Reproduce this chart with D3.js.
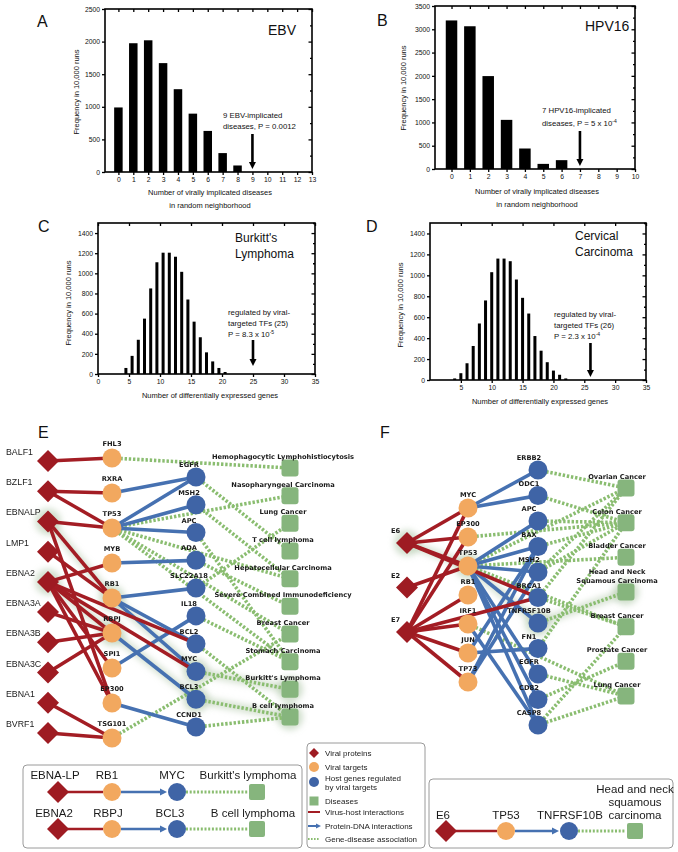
<!DOCTYPE html>
<html><head><meta charset="utf-8">
<script src="https://cdn.jsdelivr.net/npm/d3@7"></script>
<style>body{margin:0;background:#fff}svg{display:block}</style>
</head><body>
<svg id="fig" width="678" height="852"></svg>
<script>
// ---------------- DATA ----------------
const aCategories = [0,1,2,3,4,5,6,7,8,9,10,11,12,13];
const aValues     = [990,1975,2020,1670,1270,895,630,290,100,0,0,0,0,0];
const aYTicks     = [0,500,1000,1500,2000,2500];

const bCategories = [0,1,2,3,4,5,6,7,8,9,10];
const bValues     = [3190,3065,1995,1055,440,110,190,0,0,0,0];
const bYTicks     = [0,500,1000,1500,2000,2500,3000,3500];

const cBins   = [4,5,6,7,8,9,10,11,12,13,14,15,16,17,18,19,20];
const cValues = [60,180,340,550,850,1110,1205,1205,1165,1015,740,520,365,215,125,60,20];
const dBins   = [4,5,6,7,8,9,10,11,12,13,14,15,16,17,18,19,20,21,22];
const dValues = [15,65,160,325,540,760,1030,1160,1160,1135,960,785,635,420,280,170,90,50,15];
const cdYTicks = [0,200,400,600,800,1000,1200,1400];
const cXTicks  = [0,5,10,15,20,25,30,35];
const dXTicks  = [5,10,15,20,25,30,35];

const eViral    = ["BALF1","BZLF1","EBNALP","LMP1","EBNA2","EBNA3A","EBNA3B","EBNA3C","EBNA1","BVRF1"];
const eTargets  = ["FHL3","RXRA","TP53","MYB","RB1","RBPJ","SPI1","EP300","TSG101"];
const eHosts    = ["EGFR","MSH2","APC","ADA","SLC22A18","IL18","BCL2","MYC","BCL3","CCND1"];
const eDiseases = ["Hemophagocytic Lymphohistiocytosis","Nasopharyngeal Carcinoma","Lung Cancer","T cell lymphoma","Hepatocellular Carcinoma","Severe Combined Immunodeficiency","Breast Cancer","Stomach Carcinoma","Burkitt's Lymphoma","B cell lymphoma"];
const eRed = [["BALF1","FHL3"],["BZLF1","RXRA"],["BZLF1","TP53"],["EBNALP","TP53"],["EBNALP","RB1"],["EBNALP","EP300"],["LMP1","RB1"],["EBNA2","MYB"],["EBNA2","RBPJ"],["EBNA2","SPI1"],["EBNA2","EP300"],["EBNA2","BCL2"],["EBNA2","MYC"],["EBNA3A","RBPJ"],["EBNA3B","RBPJ"],["EBNA3C","RBPJ"],["EBNA1","TSG101"],["BVRF1","TSG101"]];
const eBlue = [["RXRA","EGFR"],["TP53","EGFR"],["TP53","MSH2"],["TP53","APC"],["MYB","ADA"],["RB1","SLC22A18"],["RB1","BCL2"],["RB1","MYC"],["RBPJ","BCL3"],["SPI1","IL18"],["EP300","CCND1"]];
const eGreen = [["FHL3","Hemophagocytic Lymphohistiocytosis"],["TP53","Nasopharyngeal Carcinoma"],["TP53","Hepatocellular Carcinoma"],["TP53","Breast Cancer"],["TP53","Stomach Carcinoma"],["EGFR","T cell lymphoma"],["MSH2","Hepatocellular Carcinoma"],["APC","Stomach Carcinoma"],["ADA","Severe Combined Immunodeficiency"],["SLC22A18","Lung Cancer"],["IL18","Stomach Carcinoma"],["BCL2","B cell lymphoma"],["MYC","Burkitt's Lymphoma"],["BCL3","B cell lymphoma"],["CCND1","B cell lymphoma"],["TSG101","Breast Cancer"]];
const eGlowEdges = [["EBNALP","RB1"],["EBNA2","RBPJ"],["RB1","MYC"],["RBPJ","BCL3"],["MYC","Burkitt's Lymphoma"],["BCL3","B cell lymphoma"]];
const eGlowNodes = ["EBNALP","EBNA2","RB1","RBPJ","MYC","BCL3","Burkitt's Lymphoma","B cell lymphoma"];

const fViral    = ["E6","E2","E7"];
const fTargets  = ["MYC","EP300","TP53","RB1","IRF1","JUN","TP73"];
const fHosts    = ["ERBB2","ODC1","APC","BAX","MSH2","BRCA1","TNFRSF10B","FN1","EGFR","CD82","CASP8"];
const fDiseases = ["Ovarian Cancer","Colon Cancer","Bladder Cancer","Head and Neck|Squamous Carcinoma","Breast Cancer","Prostate Cancer","Lung Cancer"];
const fRed = [["E6","MYC"],["E6","EP300"],["E6","TP53"],["E6","BRCA1"],["E2","TP53"],["E7","MYC"],["E7","EP300"],["E7","RB1"],["E7","IRF1"],["E7","JUN"],["E7","TP73"],["E7","BRCA1"]];
const fBlue = [["MYC","ERBB2"],["MYC","ODC1"],["TP53","APC"],["TP53","BAX"],["TP53","MSH2"],["TP53","TNFRSF10B"],["TP53","EGFR"],["TP53","CD82"],["TP53","CASP8"],["JUN","BAX"],["JUN","FN1"],["TP73","MSH2"],["TP73","BAX"],["IRF1","CASP8"]];
const fGreen = [["ERBB2","Ovarian Cancer"],["ODC1","Colon Cancer"],["APC","Colon Cancer"],["BAX","Colon Cancer"],["EP300","Colon Cancer"],["MSH2","Colon Cancer"],["MSH2","Ovarian Cancer"],["BRCA1","Ovarian Cancer"],["BRCA1","Breast Cancer"],["TP53","Ovarian Cancer"],["TP53","Bladder Cancer"],["TP53","Breast Cancer"],["TNFRSF10B","Head and Neck|Squamous Carcinoma"],["FN1","Colon Cancer"],["EGFR","Lung Cancer"],["CD82","Prostate Cancer"],["CASP8","Breast Cancer"],["CASP8","Lung Cancer"],["IRF1","Lung Cancer"]];
const fGlowEdges = [["E6","TP53"],["TP53","TNFRSF10B"],["TNFRSF10B","Head and Neck|Squamous Carcinoma"]];
const fGlowNodes = ["E6","TP53","TNFRSF10B","Head and Neck|Squamous Carcinoma"];

const legendItems = ["Viral proteins","Viral targets","Host genes regulated|by viral targets","Diseases","Virus-host interactions","Protein-DNA interactions","Gene-disease association"];

// ---------------- STYLE ----------------
const C = {diamond:"#9e1b22", orange:"#f2a85f", blue:"#3f64a6", green:"#86b57d",
  red:"#a31d24", blueE:"#4671b1", greenE:"#8abd70", glow:"#b2c9ac"};
const SANS = "'Liberation Sans', Arial, Helvetica, sans-serif";
const NETF = "'DejaVu Sans', Verdana, sans-serif";

const svg = d3.select("#fig");
const defs = svg.append("defs");
defs.append("filter").attr("id","blur").attr("x","-50%").attr("y","-50%").attr("width","200%").attr("height","200%")
  .append("feGaussianBlur").attr("stdDeviation",3);

function letter(t,x,y){ svg.append("text").attr("x",x).attr("y",y).text(t)
  .style("font-family",SANS).style("font-size","16px").attr("fill","#111"); }

// ---------------- HISTOGRAMS ----------------
function hist(o){
  const g = svg.append("g");
  const x = d3.scaleLinear().domain(o.xDomain).range([o.x0,o.x1]);
  const y = d3.scaleLinear().domain([0,o.yMax]).range([o.y1,o.y0]);
  g.selectAll("rect.bar").data(o.cats).join("rect").attr("class","bar")
    .attr("x",(c)=>x(c+o.off)-o.barW/2).attr("width",o.barW)
    .attr("y",(c,i)=>y(o.vals[i])).attr("height",(c,i)=>o.y1-y(o.vals[i]))
    .attr("fill","#000");
  const fs = "6.8px";
  const left = g.append("g").attr("transform",`translate(${o.x0},0)`)
    .call(d3.axisLeft(y).tickValues(o.yTicks).tickSize(3).tickPadding(2).tickFormat(d3.format("d")));
  const minor = d3.range(0,o.yMax+1,o.yTicks[1]/2);
  const right = g.append("g").attr("transform",`translate(${o.x1},0)`)
    .call(d3.axisLeft(y).tickValues(minor).tickSize(3).tickFormat(""));
  right.selectAll(".tick line").attr("x2",(d)=> (d%o.yTicks[1]===0)?-3.5:-2);
  const top = g.append("g").attr("transform",`translate(0,${o.y0})`)
    .call(d3.axisBottom(x).tickValues(o.xTicks).tickSize(3).tickFormat(""));
  const bottom = g.append("g").attr("transform",`translate(0,${o.y1})`)
    .call(d3.axisBottom(x).tickValues(o.xTicks).tickSize(3).tickPadding(2).tickFormat(d3.format("d")));
  [left,right,top,bottom].forEach(a=>{
    a.select(".domain").remove();
    a.selectAll(".tick line").attr("stroke","#000").attr("stroke-width",1.3);
    a.selectAll("text").style("font-family",SANS).style("font-size",fs).attr("fill","#111");
  });
  g.append("rect").attr("x",o.x0).attr("y",o.y0).attr("width",o.x1-o.x0).attr("height",o.y1-o.y0)
    .attr("fill","none").attr("stroke","#000").attr("stroke-width",1.6);
  g.append("text").attr("transform",`translate(${o.yTitleX},${o.yTitleY}) rotate(-90)`)
    .attr("text-anchor","middle").attr("dy","0.35em").text("Frequency in 10,000 runs")
    .style("font-family",SANS).style("font-size","7.5px").attr("fill","#111");
  o.xTitle.forEach((t,i)=> g.append("text").attr("x",o.xTitleX).attr("y",o.xTitleY+i*12.5)
    .attr("text-anchor","middle").text(t).style("font-family",SANS).style("font-size","7.5px").attr("fill","#111"));
  o.title.forEach((t,i)=> g.append("text").attr("x",o.titleX).attr("y",o.titleY+i*15.5)
    .text(t).style("font-family",SANS).style("font-size",o.titleSize).attr("fill","#111"));
  o.note.forEach((t,i)=>{
    const tx = g.append("text").attr("x",o.noteX).attr("y",o.noteY+i*o.noteStep)
      .style("font-family",SANS).style("font-size","7.8px").attr("fill","#111");
    tx.append("tspan").text(t[0]);
    if(t[1]) tx.append("tspan").text(t[1]).attr("dy",-3.5).style("font-size","5px");
  });
  const ax = x(o.arrowAt);
  g.append("line").attr("x1",ax).attr("x2",ax).attr("y1",o.arrowTop).attr("y2",o.arrowBot-6)
    .attr("stroke","#000").attr("stroke-width",2.6);
  g.append("path").attr("d",`M${ax-3.5},${o.arrowBot-7}L${ax+3.5},${o.arrowBot-7}L${ax},${o.arrowBot}Z`).attr("fill","#000");
}

hist({x0:105,x1:312,y0:9,y1:172,xDomain:[-0.9,13],yMax:2500,cats:aCategories,vals:aValues,off:0,barW:8.5,
  yTicks:aYTicks,xTicks:aCategories,yTitleX:76,yTitleY:92,xTitle:["Number of virally implicated diseases","in random neighborhood"],
  xTitleX:210,xTitleY:195,title:["EBV"],titleX:268,titleY:35,titleSize:"14px",
  note:[["9 EBV-implicated"],["diseases, P = 0.0012"]],noteX:223,noteY:118,noteStep:11,arrowAt:9,arrowTop:134,arrowBot:169});
hist({x0:435,x1:635,y0:6,y1:169,xDomain:[-0.9,10],yMax:3500,cats:bCategories,vals:bValues,off:0,barW:11.5,
  yTicks:bYTicks,xTicks:bCategories,yTitleX:403,yTitleY:88,xTitle:["Number of virally implicated diseases","in random neighborhood"],
  xTitleX:537,xTitleY:194,title:["HPV16"],titleX:585,titleY:31,titleSize:"14px",
  note:[["7 HPV16-implicated"],["diseases, P = 5 x 10","-4"]],noteX:542,noteY:113,noteStep:13,arrowAt:7,arrowTop:131,arrowBot:166});
hist({x0:98,x1:315,y0:223,y1:374,xDomain:[0,35],yMax:1500,cats:cBins,vals:cValues,off:0.5,barW:3,
  yTicks:cdYTicks,xTicks:cXTicks,yTitleX:68,yTitleY:303,xTitle:["Number of differentially expressed genes"],
  xTitleX:210,xTitleY:398,title:["Burkitt's","Lymphoma"],titleX:235,titleY:242,titleSize:"12px",
  note:[["regulated by viral-"],["targeted TFs (25)"],["P = 8.3 x 10","-5"]],noteX:228,noteY:315,noteStep:11,arrowAt:25,arrowTop:340,arrowBot:366});
hist({x0:430,x1:646,y0:223,y1:380,xDomain:[0,35],yMax:1500,cats:dBins,vals:dValues,off:0,barW:3,
  yTicks:cdYTicks,xTicks:dXTicks,yTitleX:400,yTitleY:305,xTitle:["Number of differentially expressed genes"],
  xTitleX:540,xTitleY:404,title:["Cervical","Carcinoma"],titleX:575,titleY:240,titleSize:"12px",
  note:[["regulated by viral-"],["targeted TFs (26)"],["P = 2.3 x 10","-4"]],noteX:554,noteY:317,noteStep:11,arrowAt:26,arrowTop:343,arrowBot:377});

letter("A",37,27); letter("B",377,26); letter("C",38,232); letter("D",366,232);
letter("E",38,438); letter("F",380,438);

// ---------------- NETWORKS ----------------
function diamondPath(x,y,h){ return `M${x},${y-h}L${x+h},${y}L${x},${y+h}L${x-h},${y}Z`; }

function network(o){
  const g = svg.append("g");
  const pos = {};
  o.cols.forEach(col=>{
    const s = d3.scaleLinear().domain([0,col.names.length-1]).range(col.yRange);
    col.names.forEach((n,i)=> pos[n] = {x:col.x, y:s(i), type:col.type, name:n});
  });
  const line = (sel)=> sel.attr("x1",d=>pos[d[0]].x).attr("y1",d=>pos[d[0]].y)
                         .attr("x2",d=>pos[d[1]].x).attr("y2",d=>pos[d[1]].y);
  g.append("g").attr("filter","url(#blur)").selectAll("line").data(o.glowEdges).join("line").call(line)
    .attr("stroke",C.glow).attr("stroke-width",8).attr("opacity",0.55);
  g.append("g").attr("filter","url(#blur)").selectAll("circle").data(o.glowNodes).join("circle")
    .attr("cx",d=>pos[d].x).attr("cy",d=>pos[d].y).attr("r",13).attr("fill",C.glow).attr("opacity",0.6);
  g.append("g").selectAll("line").data(o.green).join("line").call(line)
    .attr("stroke",C.greenE).attr("stroke-width",3.6).attr("stroke-dasharray","2.4,1.8");
  g.append("g").selectAll("line").data(o.blue).join("line").call(line)
    .attr("stroke",C.blueE).attr("stroke-width",3.6);
  g.append("g").selectAll("line").data(o.red).join("line").call(line)
    .attr("stroke",C.red).attr("stroke-width",3.6);
  const nodes = Object.values(pos);
  nodes.forEach(n=>{
    if(n.type==="viral"){
      g.append("path").attr("d",diamondPath(n.x,n.y,o.dh)).attr("fill",C.diamond);
    } else if(n.type==="target"){
      g.append("circle").attr("cx",n.x).attr("cy",n.y).attr("r",o.r).attr("fill",C.orange);
    } else if(n.type==="host"){
      g.append("circle").attr("cx",n.x).attr("cy",n.y).attr("r",o.r).attr("fill",C.blue);
    } else {
      g.append("rect").attr("x",n.x-o.sq/2).attr("y",n.y-o.sq/2).attr("width",o.sq).attr("height",o.sq)
        .attr("rx",3).attr("fill",C.green);
    }
  });
  nodes.forEach(n=>{
    const t = g.append("text").attr("fill","#1a1a1a");
    if(n.type==="viral"){
      t.attr("x",n.x+o.vlx).attr("y",n.y+o.vly).text(n.name)
       .style("font-family",o.vfont).style("font-size",o.vsize).style("font-weight",o.vweight);
    } else {
      let lx=n.x, ly=n.y;
      if(n.type==="target"){ ly = n.y+o.tly; }
      else if(n.type==="host"){ lx = n.x+o.hlx; ly = n.y+o.hly; }
      else { lx = o.dlx; ly = n.y+o.dly; }
      const parts = n.name.split("|");
      t.attr("text-anchor","middle").style("font-family",NETF).style("font-size","6.7px").style("font-weight","bold");
      parts.forEach((p,i)=> t.append("tspan").attr("x",lx).attr("y",ly-(parts.length-1-i)*9).text(p));
    }
  });
}

network({cols:[
  {names:eViral,x:48,yRange:[461,733],type:"viral"},
  {names:eTargets,x:112,yRange:[458,738],type:"target"},
  {names:eHosts,x:196,yRange:[477,727],type:"host"},
  {names:eDiseases,x:290,yRange:[468,717],type:"disease"}],
  red:eRed,blue:eBlue,green:eGreen,glowEdges:eGlowEdges,glowNodes:eGlowNodes,
  dh:11,r:9.5,sq:17,vlx:-42,vly:-6,vfont:SANS,vsize:"8.8px",vweight:"normal",
  tly:-12,hlx:-7,hly:-10,dlx:283,dly:-9});

network({cols:[
  {names:fViral,x:407,yRange:[543,632],type:"viral"},
  {names:fTargets,x:468,yRange:[508,682],type:"target"},
  {names:fHosts,x:538,yRange:[470,725],type:"host"},
  {names:fDiseases,x:626,yRange:[488,696],type:"disease"}],
  red:fRed,blue:fBlue,green:fGreen,glowEdges:fGlowEdges,glowNodes:fGlowNodes,
  dh:11,r:9.5,sq:17,vlx:-16,vly:-10,vfont:NETF,vsize:"6.7px",vweight:"bold",
  tly:-11,hlx:-9,hly:-10,dlx:617,dly:-9});

// ---------------- LEGEND ----------------
const lg = svg.append("g");
lg.append("rect").attr("x",307).attr("y",743).attr("width",118).attr("height",105).attr("rx",4)
  .attr("fill","#fff").attr("stroke","#9a9a9a").attr("stroke-width",1);
const lgY = [753,767,782,801,812,826,839];
lg.append("path").attr("d",diamondPath(314,lgY[0],5)).attr("fill",C.diamond);
lg.append("circle").attr("cx",314).attr("cy",lgY[1]).attr("r",5).attr("fill",C.orange);
lg.append("circle").attr("cx",314).attr("cy",lgY[2]).attr("r",5).attr("fill",C.blue);
lg.append("rect").attr("x",309.5).attr("y",lgY[3]-4.5).attr("width",9).attr("height",9).attr("fill",C.green);
lg.append("line").attr("x1",308).attr("x2",320).attr("y1",lgY[4]).attr("y2",lgY[4]).attr("stroke",C.red).attr("stroke-width",2);
lg.append("line").attr("x1",308).attr("x2",317).attr("y1",lgY[5]).attr("y2",lgY[5]).attr("stroke",C.blueE).attr("stroke-width",2);
lg.append("path").attr("d",`M316,${lgY[5]-2.5}L321,${lgY[5]}L316,${lgY[5]+2.5}Z`).attr("fill",C.blueE);
lg.append("line").attr("x1",308).attr("x2",320).attr("y1",lgY[6]).attr("y2",lgY[6]).attr("stroke",C.greenE).attr("stroke-width",2).attr("stroke-dasharray","1.6,1.4");
legendItems.forEach((t,i)=>{
  const parts=t.split("|");
  const tx = lg.append("text").style("font-family",SANS).style("font-size","8px").attr("fill","#222");
  parts.forEach((p,j)=> tx.append("tspan").attr("x",325).attr("y",lgY[i]+3-(parts.length-1)*4.5+j*9).text(p));
});

function exampleBox(o){
  const g = svg.append("g");
  g.append("rect").attr("x",o.x).attr("y",o.y).attr("width",o.w).attr("height",o.h).attr("rx",4)
    .attr("fill","#fff").attr("stroke","#9a9a9a").attr("stroke-width",1);
  o.rows.forEach(r=>{
    const y=r.y, X=o.nx;
    g.append("line").attr("x1",X[0]+9).attr("x2",X[1]-9).attr("y1",y).attr("y2",y).attr("stroke",C.red).attr("stroke-width",2.5);
    g.append("line").attr("x1",X[1]+9).attr("x2",X[2]-16).attr("y1",y).attr("y2",y).attr("stroke",C.blueE).attr("stroke-width",2.5);
    g.append("path").attr("d",`M${X[2]-17},${y-3.5}L${X[2]-10},${y}L${X[2]-17},${y+3.5}Z`).attr("fill",C.blueE);
    g.append("line").attr("x1",X[2]+9).attr("x2",X[3]-9).attr("y1",y).attr("y2",y).attr("stroke",C.greenE).attr("stroke-width",2.8).attr("stroke-dasharray","2,1.7");
    g.append("path").attr("d",diamondPath(X[0],y,11)).attr("fill",C.diamond);
    g.append("circle").attr("cx",X[1]).attr("cy",y).attr("r",9).attr("fill",C.orange);
    g.append("circle").attr("cx",X[2]).attr("cy",y).attr("r",9).attr("fill",C.blue);
    g.append("rect").attr("x",X[3]-8).attr("y",y-8).attr("width",16).attr("height",16).attr("rx",2).attr("fill",C.green);
    r.labels.forEach((lab,i)=>{
      const parts = lab.split("|");
      const t = g.append("text").attr("text-anchor","middle").style("font-family",SANS).style("font-size","11.5px").attr("fill","#1a1a1a");
      parts.forEach((p,j)=> t.append("tspan").attr("x",r.lx[i]).attr("y",r.ly-(parts.length-1-j)*13).text(p));
    });
  });
}
exampleBox({x:23,y:765,w:279,h:83,nx:[58,112,177,257],rows:[
  {y:792,ly:779,lx:[55,107,172,248],labels:["EBNA-LP","RB1","MYC","Burkitt's lymphoma"]},
  {y:829,ly:817,lx:[54,108,170,253],labels:["EBNA2","RBPJ","BCL3","B cell lymphoma"]}]});
exampleBox({x:429,y:779,w:244,h:69,nx:[446,506,569,635],rows:[
  {y:831,ly:819,lx:[443,506,570,635],labels:["E6","TP53","TNFRSF10B","Head and neck|squamous|carcinoma"]}]});
</script>
</body></html>
